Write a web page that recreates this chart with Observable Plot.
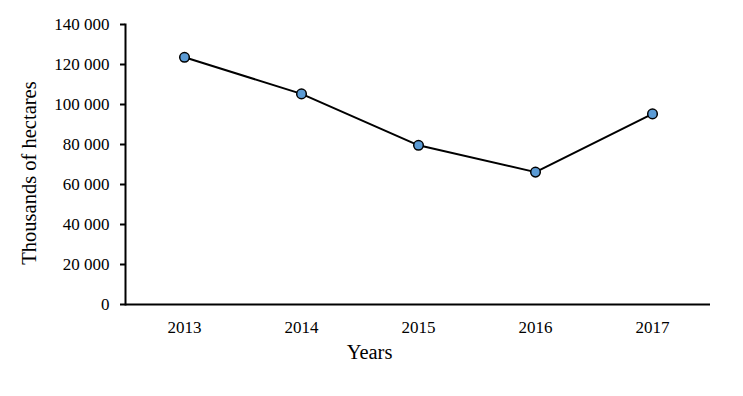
<!DOCTYPE html>
<html>
<head>
<meta charset="utf-8">
<script src="https://cdn.jsdelivr.net/npm/d3@7"></script>
<script src="https://cdn.jsdelivr.net/npm/@observablehq/plot@0.6"></script>
<style>
  html, body { margin: 0; padding: 0; background: #fff; }
  #chart svg { display: block; }
</style>
</head>
<body>
<div id="chart"></div>
<script>
const years = ["2013", "2014", "2015", "2016", "2017"];
const hectares = [123600, 105300, 79600, 66200, 95300];
const yTicks = [0, 20000, 40000, 60000, 80000, 100000, 120000, 140000];
const xLabel = "Years";
const yLabel = "Thousands of hectares";

const data = years.map((y, i) => ({year: y, value: hectares[i]}));
const fmt = v => d3.format(",")(v).replace(/,/g, " ");

const chart = Plot.plot({
  width: 743,
  height: 396,
  marginLeft: 125,
  marginRight: 33,
  marginTop: 24,
  marginBottom: 92,
  style: {fontFamily: "'Liberation Serif', 'Times New Roman', serif", fontSize: "17px", color: "#000", background: "#fff"},
  x: {type: "point", domain: years, padding: 0.5, align: 0.5},
  y: {domain: [0, 140000]},
  marks: [
    Plot.axisY({ticks: yTicks, tickFormat: fmt, tickSize: 5, tickPadding: 11, strokeWidth: 2, label: null, fontSize: 17}),
    Plot.axisX({tickSize: 0, tickPadding: 16.5, label: null, fontSize: 17}),
    Plot.frame({anchor: "left", strokeWidth: 2, stroke: "#000"}),
    Plot.ruleY([0], {strokeWidth: 2, stroke: "#000"}),
    Plot.line(data, {x: "year", y: "value", stroke: "#000", strokeWidth: 2}),
    Plot.dot(data, {x: "year", y: "value", r: 4.8, fill: "#5b9bd5", stroke: "#000", strokeWidth: 1.5}),
    Plot.text([xLabel], {frameAnchor: "bottom", dx: -48.5, dy: 54, lineAnchor: "bottom", textAnchor: "middle", fontSize: 20.5, fill: "#000"}),
    Plot.text([yLabel], {frameAnchor: "left", dx: -90, dy: 8.5, rotate: -90, lineAnchor: "bottom", textAnchor: "middle", fontSize: 20.5, fill: "#000"})
  ]
});
document.getElementById("chart").appendChild(chart);
</script>
</body>
</html>
